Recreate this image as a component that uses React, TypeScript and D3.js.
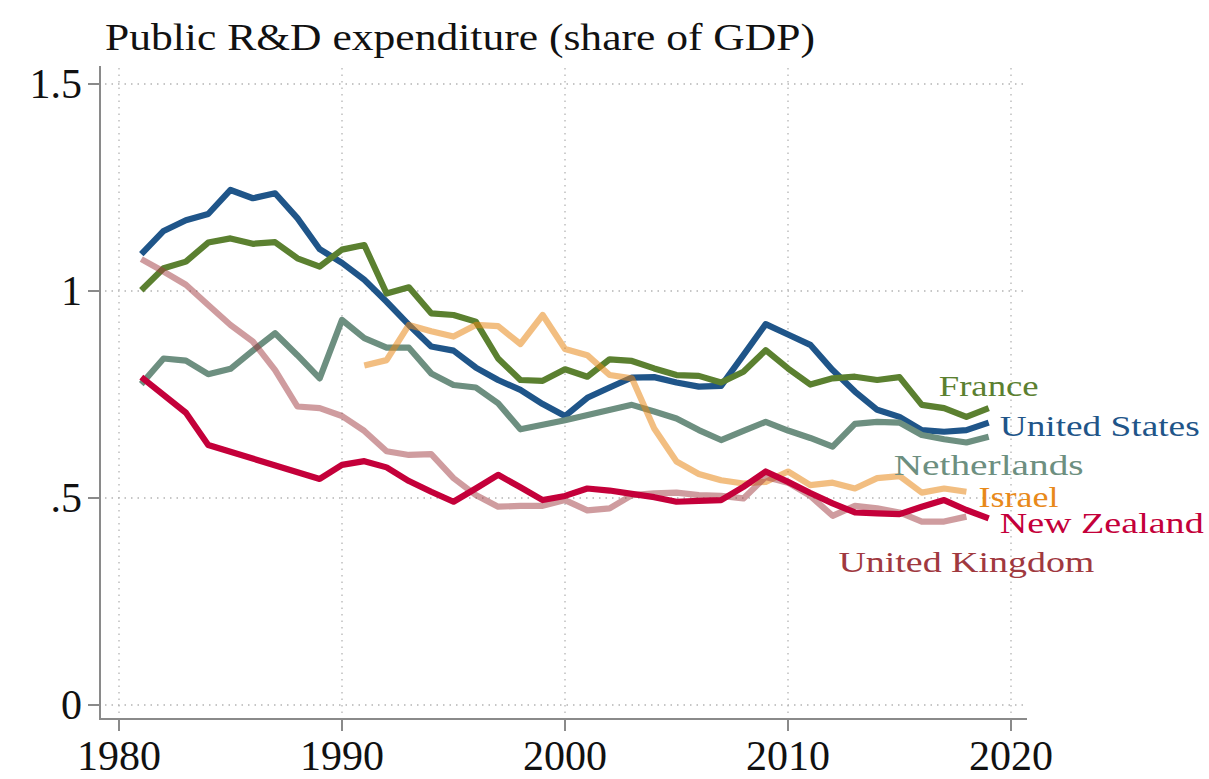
import React from "react";
import * as d3 from "d3";

const years: number[] = d3.range(1981, 2020);

const unitedStates: (number | null)[] = [
  1.089, 1.145, 1.171, 1.186, 1.244, 1.224, 1.236, 1.176, 1.101, 1.068,
  1.027, 0.974, 0.918, 0.866, 0.856, 0.815, 0.785, 0.761, 0.727, 0.698,
  0.742, 0.767, 0.791, 0.792, 0.779, 0.769, 0.771, 0.845, 0.92, 0.895,
  0.87, 0.809, 0.757, 0.713, 0.696, 0.664, 0.66, 0.664, 0.682,
];
const france: (number | null)[] = [
  1.002, 1.055, 1.071, 1.117, 1.127, 1.114, 1.118, 1.079, 1.059, 1.1,
  1.111, 0.994, 1.009, 0.946, 0.942, 0.926, 0.837, 0.785, 0.783, 0.811,
  0.793, 0.835, 0.831, 0.813, 0.797, 0.795, 0.779, 0.805, 0.857, 0.813,
  0.774, 0.789, 0.793, 0.785, 0.792, 0.725, 0.717, 0.696, 0.717,
];
const netherlands: (number | null)[] = [
  0.775, 0.837, 0.832, 0.799, 0.812, 0.856, 0.898, 0.845, 0.789, 0.93,
  0.886, 0.863, 0.863, 0.801, 0.773, 0.767, 0.729, 0.666, null, 0.688,
  null, null, 0.725, 0.709, 0.692, 0.664, 0.64, 0.662, 0.684, 0.663,
  0.645, 0.624, 0.679, 0.684, 0.682, 0.652, 0.642, 0.634, 0.648,
];
const israel: (number | null)[] = [
  null, null, null, null, null, null, null, null, null, null,
  0.82, 0.833, 0.918, 0.903, 0.89, 0.918, 0.915, 0.872, 0.942, 0.86,
  0.845, 0.797, 0.789, 0.668, 0.588, 0.558, 0.543, 0.535, 0.539, 0.564,
  0.531, 0.537, 0.523, 0.548, 0.553, 0.513, 0.523, 0.515, null,
];
const unitedKingdom: (number | null)[] = [
  1.077, 1.047, 1.015, 0.966, 0.918, 0.878, 0.809, 0.721, 0.717, 0.698,
  0.662, 0.613, 0.604, 0.606, 0.548, 0.507, 0.479, 0.481, 0.481, 0.495,
  0.47, 0.475, 0.507, 0.511, 0.513, 0.507, 0.505, 0.499, 0.551, 0.537,
  0.505, 0.457, 0.481, 0.475, 0.465, 0.443, 0.443, 0.455, null,
];
const newZealand: (number | null)[] = [
  0.792, null, 0.706, 0.628, null, null, null, null, 0.546, 0.58,
  0.589, 0.574, 0.541, 0.515, 0.491, 0.523, 0.556, 0.526, 0.495, 0.505,
  0.523, 0.518, 0.51, 0.502, 0.491, 0.493, 0.495, 0.527, 0.564, 0.539,
  0.512, 0.487, 0.465, 0.463, 0.461, 0.479, 0.495, 0.471, 0.451,
];

const xTicks: number[] = [1980, 1990, 2000, 2010, 2020];
const yTicks: number[] = [0, 0.5, 1, 1.5];
const yTickLabels: string[] = ["0", ".5", "1", "1.5"];
const title = "Public R&D expenditure (share of GDP)";

type Series = {
  name: string;
  values: (number | null)[];
  color: string;
  opacity: number;
  labelColor: string;
  dx: number;
  dy: number;
  width: number;
};

const series: Series[] = [
  { name: "United States", values: unitedStates, color: "#1f5589", opacity: 1, labelColor: "#1f5589", dx: 11, dy: 13, width: 200 },
  { name: "France", values: france, color: "#5b8030", opacity: 1, labelColor: "#5b8030", dx: -50, dy: -12, width: 100 },
  { name: "Netherlands", values: netherlands, color: "#6d8f80", opacity: 1, labelColor: "#6d8f80", dx: -95, dy: 38, width: 190 },
  { name: "Israel", values: israel, color: "#e8891a", opacity: 0.55, labelColor: "#e8891a", dx: 12, dy: 15, width: 80 },
  { name: "United Kingdom", values: unitedKingdom, color: "#a0393f", opacity: 0.5, labelColor: "#a0393f", dx: -128, dy: 55, width: 256 },
  { name: "New Zealand", values: newZealand, color: "#c4003a", opacity: 1, labelColor: "#c4003a", dx: 11, dy: 15, width: 204 },
];

export default function App() {
  const W = 1209;
  const H = 779;
  const x = d3.scaleLinear().domain([1980, 2020]).range([119, 1011]);
  const y = d3.scaleLinear().domain([0, 1.5]).range([705, 84]);
  const plotLeft = 100;
  const plotRight = 1027;
  const plotTop = 66;
  const plotBottom = 719;

  const line = d3
    .line<[number, number | null]>()
    .x((d) => x(d[0]))
    .y((d) => y(d[1] as number));

  const font = "'Liberation Serif', 'Times New Roman', serif";

  return (
    <svg
      width={W}
      height={H}
      style={{ position: "absolute", left: 0, top: 0, background: "#fff" }}
      fontFamily={font}
    >
      <rect x={0} y={0} width={W} height={H} fill="#fff" />
      {/* grid */}
      {yTicks.map((t) => (
        <line
          key={"gy" + t}
          x1={plotLeft + 5}
          x2={plotRight}
          y1={y(t)}
          y2={y(t)}
          stroke="#b4b4b4"
          strokeWidth={1.3}
          strokeDasharray="1.5,5"
        />
      ))}
      {xTicks.map((t) => (
        <line
          key={"gx" + t}
          x1={x(t)}
          x2={x(t)}
          y1={plotTop + 2}
          y2={plotBottom - 6}
          stroke="#b4b4b4"
          strokeWidth={1.3}
          strokeDasharray="1.5,5"
        />
      ))}
      {/* axes */}
      <line x1={plotLeft} x2={plotLeft} y1={plotTop} y2={plotBottom + 1} stroke="#8a8a8a" strokeWidth={2} />
      <line x1={plotLeft - 1} x2={plotRight} y1={plotBottom} y2={plotBottom} stroke="#8a8a8a" strokeWidth={2} />
      {yTicks.map((t, i) => (
        <g key={"yt" + t}>
          <line x1={plotLeft - 12} x2={plotLeft} y1={y(t)} y2={y(t)} stroke="#8a8a8a" strokeWidth={2} />
          <text x={plotLeft - 18} y={y(t)} dy="0.34em" textAnchor="end" fontSize={42} fill="#111">
            {yTickLabels[i]}
          </text>
        </g>
      ))}
      {xTicks.map((t) => (
        <g key={"xt" + t}>
          <line x1={x(t)} x2={x(t)} y1={plotBottom} y2={plotBottom + 12} stroke="#8a8a8a" strokeWidth={2} />
          <text x={x(t)} y={770} textAnchor="middle" fontSize={42} fill="#111">
            {t}
          </text>
        </g>
      ))}
      {/* lines */}
      {series.map((s) => {
        const pts = years
          .map((yr, i) => [yr, s.values[i]] as [number, number | null])
          .filter((d) => d[1] !== null);
        return (
          <path
            key={s.name}
            d={line(pts) || ""}
            fill="none"
            stroke={s.color}
            strokeOpacity={s.opacity}
            strokeWidth={6.2}
            strokeLinejoin="round"
          />
        );
      })}
      {/* labels */}
      {series.map((s) => {
        let lastIdx = s.values.length - 1;
        while (lastIdx >= 0 && s.values[lastIdx] === null) lastIdx--;
        const lx = x(years[lastIdx]) + s.dx;
        const ly = y(s.values[lastIdx] as number) + s.dy;
        return (
          <text
            key={"l" + s.name}
            x={lx}
            y={ly}
            fontSize={30}
            fill={s.labelColor}
            textLength={s.width}
            lengthAdjust="spacingAndGlyphs"
          >
            {s.name}
          </text>
        );
      })}
      <text x={105} y={50} fontSize={37} fill="#111" textLength={710} lengthAdjust="spacingAndGlyphs">
        {title}
      </text>
    </svg>
  );
}
